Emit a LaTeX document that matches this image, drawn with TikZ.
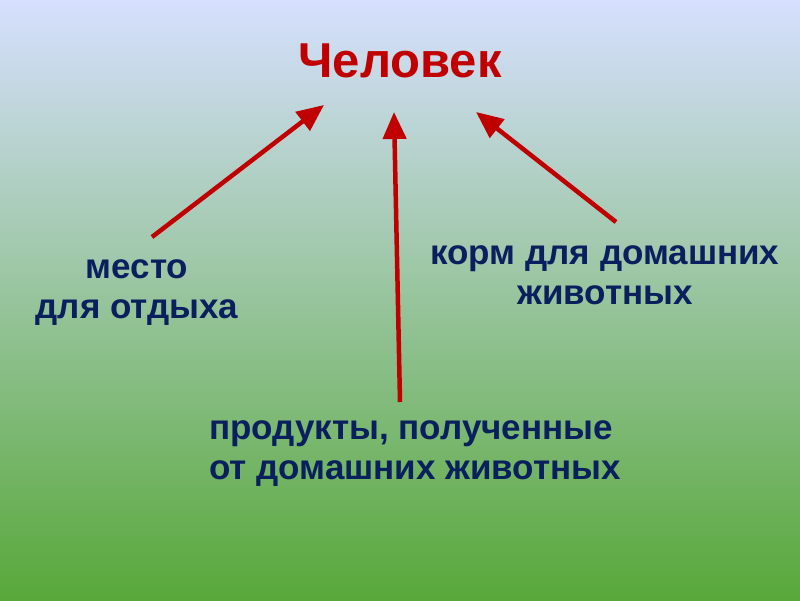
\documentclass[tikz,border=0pt]{standalone}
\usepackage{fontspec}
\setmainfont{Liberation Sans}
\usetikzlibrary{arrows.meta}
\definecolor{bgtop}{RGB}{214,224,254}
\definecolor{bgmid}{RGB}{168,204,164}
\definecolor{bgbot}{RGB}{88,168,58}
\definecolor{titlered}{RGB}{192,0,0}
\definecolor{textblue}{RGB}{10,32,94}
\begin{document}
\begin{tikzpicture}[x=1pt,y=-1pt,
    label/.style={text=textblue,font=\bfseries\fontsize{35}{40}\selectfont,align=center,inner sep=0pt},
    link/.style={draw=titlered,line width=4.5pt,-{Triangle[length=27pt,width=23pt]}}]
    % Background
    \shade[top color=bgtop,middle color=bgmid,bottom color=bgbot] (0,0) rectangle (800,600);
    \useasboundingbox (0,0) rectangle (800,600);

    % Title
    \node[text=titlered,font=\bfseries\fontsize{49}{56}\selectfont,inner sep=0pt] (chelovek) at (400,61) {Человек};

    % Labels
    \node[label] (mesto) at (137,293) {место\\для отдыха};
    \node[label] (korm) at (605,275) {корм для домашних\\животных};
    \node[label,align=left] (produkty) at (415,454) {продукты, полученные\\от домашних животных};

    % Arrow ends
    \coordinate (mesto tail) at (152,237);
    \coordinate (mesto tip) at (324,105);
    \coordinate (produkty tail) at (400,402);
    \coordinate (produkty tip) at (394,112);
    \coordinate (korm tail) at (616,222);
    \coordinate (korm tip) at (476,112);

    % Arrows
    \draw[link] (mesto tail) -- (mesto tip);
    \draw[link] (produkty tail) -- (produkty tip);
    \draw[link] (korm tail) -- (korm tip);
\end{tikzpicture}
\end{document}
